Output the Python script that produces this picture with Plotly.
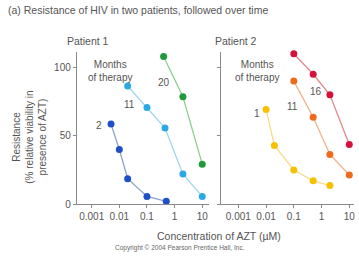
import plotly.graph_objects as go

W, H = 359, 262

# ---- data ----
p1_m2_x = [0.005, 0.01, 0.02, 0.1, 0.5]
p1_m2_y = [58.6, 40, 18.6, 5.7, 2.1]
p1_m11_x = [0.02, 0.1, 0.45, 2, 10]
p1_m11_y = [86.4, 70.7, 55.7, 22, 5.7]
p1_m20_x = [0.4, 2, 10]
p1_m20_y = [108, 78.6, 29.3]

p2_m1_x = [0.01, 0.02, 0.1, 0.5, 2]
p2_m1_y = [69.3, 42.9, 25, 17.1, 13.6]
p2_m11_x = [0.1, 0.5, 2, 10]
p2_m11_y = [90, 63.6, 36.4, 21.4]
p2_m16_x = [0.1, 0.5, 2, 10]
p2_m16_y = [110, 95, 80, 43.6]

tick_vals = [0.001, 0.01, 0.1, 1, 10]
tick_text = ["0.001", "0.01", "0.1", "1", "10"]
y_ticks = [0, 50, 100]

def px(x):
    return x / W

def py(y):
    return 1 - y / H

FONT = "Liberation Sans, Arial, sans-serif"
TXT = "#555555"
AX = "#8a8a8a"

fig = go.Figure()

series = [
    (p1_m2_x, p1_m2_y, "x", "y", "#1f4fc8", "#8fa3cf"),
    (p1_m11_x, p1_m11_y, "x", "y", "#2aa9e6", "#9fd6ea"),
    (p1_m20_x, p1_m20_y, "x", "y", "#1f9a3a", "#8ccf8f"),
    (p2_m1_x, p2_m1_y, "x2", "y2", "#f7c100", "#f5dc8a"),
    (p2_m11_x, p2_m11_y, "x2", "y2", "#f06a1c", "#f2b08a"),
    (p2_m16_x, p2_m16_y, "x2", "y2", "#d8103c", "#de8a8a"),
]
for xs, ys, xa, ya, mc, lc in series:
    fig.add_trace(go.Scatter(
        x=xs, y=ys, xaxis=xa, yaxis=ya, mode="lines+markers",
        line=dict(color=lc, width=1.3),
        marker=dict(color=mc, size=7),
        cliponaxis=False, showlegend=False, hoverinfo="skip"))

YTOP = 111.5
ydom = [py(209), py(209 - YTOP * 1.4)]
yr = [0, YTOP]
common_x = dict(type="log", tickvals=tick_vals, ticktext=tick_text,
                showgrid=False, zeroline=False, showline=True, linecolor=AX,
                linewidth=1, ticks="outside", ticklen=3, tickcolor=AX,
                tickfont=dict(size=10, color=TXT, family=FONT))
common_y = dict(range=yr, domain=ydom, tickvals=y_ticks, showgrid=False,
                zeroline=False, showline=True, linecolor=AX, linewidth=1,
                ticks="outside", ticklen=3, tickcolor=AX,
                tickfont=dict(size=10, color=TXT, family=FONT))

fig.update_layout(
    width=W, height=H,
    margin=dict(l=0, r=0, t=0, b=0),
    paper_bgcolor="white", plot_bgcolor="white",
    font=dict(family=FONT, color=TXT),
    xaxis=dict(common_x, domain=[px(77), px(210)], range=[-3.54, 1.26], anchor="y"),
    yaxis=dict(common_y, anchor="x"),
    xaxis2=dict(common_x, domain=[px(222), px(355)], range=[-3.61, 1.17], anchor="y2"),
    yaxis2=dict(common_y, anchor="x2", showticklabels=False),
)

def ann(x, y, text, size=10, xanchor="center", yanchor="middle", angle=0, color=TXT):
    fig.add_annotation(x=px(x), y=py(y), xref="paper", yref="paper", text=text,
                       showarrow=False, xanchor=xanchor, yanchor=yanchor,
                       textangle=angle, font=dict(size=size, color=color, family=FONT),
                       align="center")

ann(6, 10, "(a) Resistance of HIV in two patients, followed over time", size=10.5, xanchor="left")
ann(88, 42, "Patient 1", size=10.5)
ann(237, 42, "Patient 2", size=10.5)
ann(110, 73, "Months<br>of therapy", size=10)
ann(258, 73, "Months<br>of therapy", size=10)
ann(99, 128, "2")
ann(130, 107, "11")
ann(164, 84, "20")
ann(258, 116, "1")
ann(293, 109, "11")
ann(317, 94, "16")
ann(30, 140, "Resistance<br>(% relative viability in<br>presence of AZT)", size=10, angle=-90)
ann(220, 242, "Concentration of AZT (µM)", size=10.5)
ann(181, 254, "Copyright © 2004 Pearson Prentice Hall, Inc.", size=6.5, color="#666666")

fig.write_html("out.html")
